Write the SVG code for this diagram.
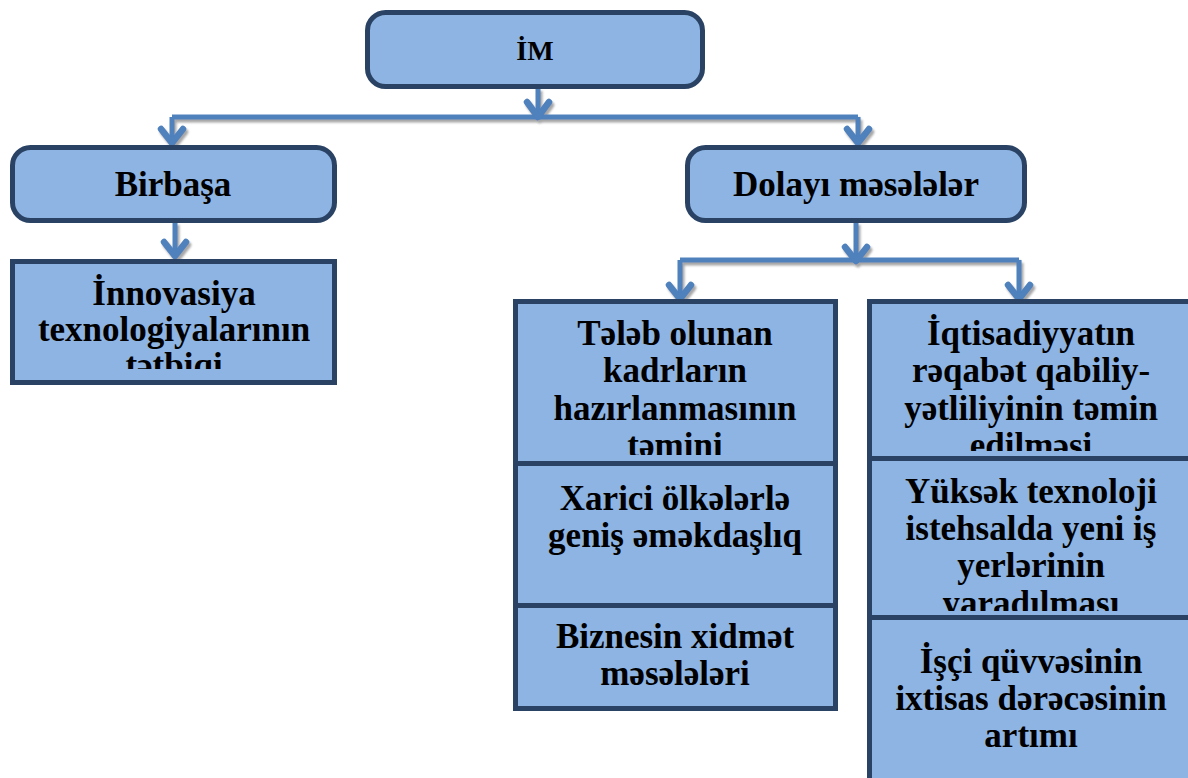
<svg xmlns="http://www.w3.org/2000/svg" width="1188" height="778" viewBox="0 0 1188 778">
<style>
.box{fill:#8eb4e3;stroke:#2a4365;stroke-width:5}
.t{font-family:"Liberation Serif","Times New Roman",serif;font-weight:bold;font-size:35px;fill:#000;text-anchor:middle}
.ln{fill:none;stroke:#4f81bd;stroke-width:5}
.hd{fill:none;stroke:#4f81bd;stroke-width:6.5;stroke-linecap:round;stroke-linejoin:round}
</style>
<defs>
<filter id="sh" x="-5%" y="-20%" width="110%" height="140%">
<feDropShadow dx="2" dy="3" stdDeviation="1" flood-color="#808080" flood-opacity="0.7"/>
</filter>
<clipPath id="cInn"><rect x="14" y="262" width="319" height="107"/></clipPath>
<clipPath id="cL1"><rect x="515" y="301" width="321" height="154"/></clipPath>
<clipPath id="cR1"><rect x="869" y="301" width="330" height="150"/></clipPath>
<clipPath id="cR2"><rect x="869" y="460" width="330" height="151"/></clipPath>
</defs>

<g id="connectors" filter="url(#sh)">
<path class="ln" d="M538 88V116M172 117H858M172 117V143M858 117V143"/>
<path class="hd" d="M527 102L538 117L549 102M161 129L172 143L183 129M847 129L858 143L869 129"/>
<path class="ln" d="M175 222V256"/>
<path class="hd" d="M164 242L175 256L186 242"/>
<path class="ln" d="M856 222V260M680 260H1019M680 260V298M1019 260V298"/>
<path class="hd" d="M845 247L856 261L867 247M669 285L680 299L691 285M1008 285L1019 299L1030 285"/>
</g>

<g id="node-im">
<rect class="box" x="367.5" y="12.5" width="335" height="74" rx="18"/>
<text class="t" x="535" y="60" style="font-size:28px">İM</text>
</g>

<g id="node-birbasa">
<rect class="box" x="12.5" y="147.5" width="322" height="73" rx="18"/>
<text class="t" x="173" y="196">Birbaşa</text>
</g>

<g id="node-dolayi">
<rect class="box" x="687.5" y="147.5" width="337" height="73" rx="18"/>
<text class="t" x="856" y="196">Dolayı məsələlər</text>
</g>

<g id="node-innovasiya">
<rect class="box" x="12.5" y="261.5" width="322" height="121"/>
<g clip-path="url(#cInn)">
<text class="t" x="174" y="305">İnnovasiya</text>
<text class="t" x="174" y="341">texnologiyalarının</text>
<text class="t" x="174" y="377">tətbiqi</text>
</g>
</g>

<g id="node-kadrlar">
<rect class="box" x="515.5" y="301.5" width="320" height="162"/>
<g clip-path="url(#cL1)">
<text class="t" x="675" y="345">Tələb olunan</text>
<text class="t" x="675" y="382">kadrların</text>
<text class="t" x="675" y="420">hazırlanmasının</text>
<text class="t" x="675" y="457">təmini</text>
</g>
</g>

<g id="node-xarici">
<rect class="box" x="515.5" y="463.5" width="320" height="142"/>
<text class="t" x="675" y="510">Xarici ölkələrlə</text>
<text class="t" x="675" y="547">geniş əməkdaşlıq</text>
</g>

<g id="node-biznes">
<rect class="box" x="515.5" y="605.5" width="320" height="103"/>
<text class="t" x="675" y="648">Biznesin xidmət</text>
<text class="t" x="675" y="685">məsələləri</text>
</g>

<g id="node-iqtisadiyyat">
<rect class="box" x="869.5" y="301.5" width="330" height="157"/>
<g clip-path="url(#cR1)">
<text class="t" x="1031" y="345">İqtisadiyyatın</text>
<text class="t" x="1031" y="382">rəqabət qabiliy-</text>
<text class="t" x="1031" y="420">yətliliyinin təmin</text>
<text class="t" x="1031" y="457">edilməsi</text>
</g>
</g>

<g id="node-yuksek">
<rect class="box" x="869.5" y="458.5" width="330" height="159"/>
<g clip-path="url(#cR2)">
<text class="t" x="1031" y="503">Yüksək texnoloji</text>
<text class="t" x="1031" y="540">istehsalda yeni iş</text>
<text class="t" x="1031" y="577">yerlərinin</text>
<text class="t" x="1031" y="615">yaradılması</text>
</g>
</g>

<g id="node-isci">
<rect class="box" x="869.5" y="617.5" width="330" height="170"/>
<text class="t" x="1031" y="673">İşçi qüvvəsinin</text>
<text class="t" x="1031" y="710">ixtisas dərəcəsinin</text>
<text class="t" x="1031" y="747">artımı</text>
</g>
</svg>
